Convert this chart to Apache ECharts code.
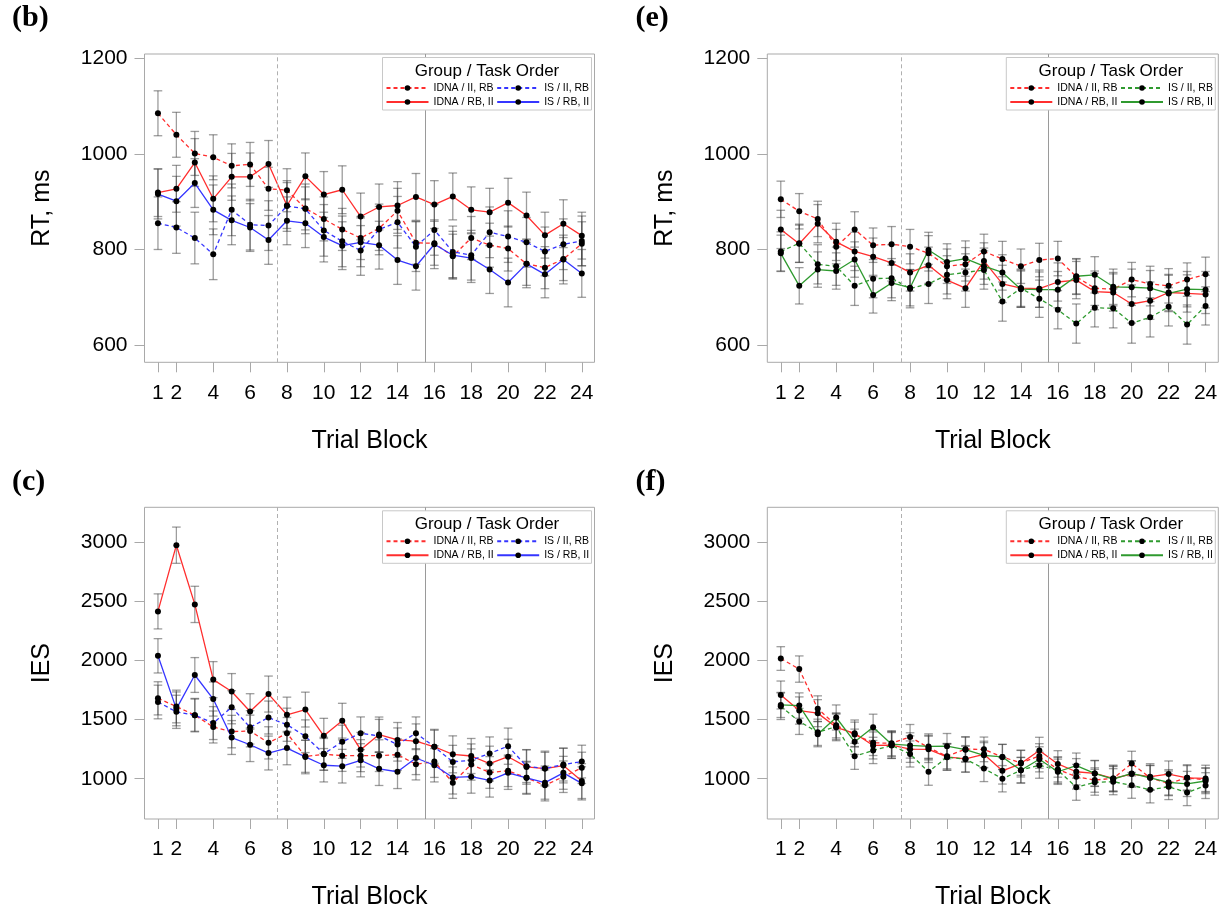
<!DOCTYPE html>
<html><head><meta charset="utf-8">
<script src="https://cdn.jsdelivr.net/npm/echarts@6/dist/echarts.min.js"></script>
<style>html,body{margin:0;padding:0;background:#fff}#c{width:1224px;height:911px}</style>
</head><body><div id="c"></div>
<script>
// ---------- data ----------
const blocks = [1,2,3,4,5,6,7,8,9,10,11,12,13,14,15,16,17,18,19,20,21,22,23,24];
const xTickValues = [1,2,4,6,8,10,12,14,16,18,20,22,24];
const rtTicks = [600,800,1000,1200];
const iesTicks = [1000,1500,2000,2500,3000];
const groupNames = ['IDNA / II, RB','IDNA / RB, II','IS / II, RB','IS / RB, II'];
const legendTitle = 'Group / Task Order';
const xTitle = 'Trial Block';
const panelLabels = ['(b)','(e)','(c)','(f)'];
const yTitles = ['RT, ms','RT, ms','IES','IES'];

// (b) RT, IDNA vs IS
const bIdnaIIRB = [1085,1040,1001,993,975,978,927,924,886,864,842,824,844,881,814,813,786,824,809,802,770,762,780,812];
const bIdnaRBII = [919,927,982,906,952,952,979,892,953,915,925,869,889,892,910,894,911,883,878,898,871,830,854,829];
const bIsIIRB   = [855,846,824,790,883,852,850,891,885,840,817,798,842,857,806,841,795,788,836,827,815,796,811,818];
const bIsRBII   = [916,901,939,883,861,846,820,860,855,826,808,815,809,778,765,811,788,782,758,731,770,748,779,750];
const bErrIdnaIIRB = [47,47,46,47,46,46,45,45,45,46,44,45,46,47,45,46,46,45,46,47,45,44,45,46];
const bErrIdnaRBII = [50,49,50,48,49,50,49,48,49,48,50,49,48,50,49,50,49,48,50,51,49,48,50,49];
const bErrIsIIRB   = [55,54,54,53,54,53,52,53,52,54,53,52,53,54,52,53,54,52,53,54,52,51,53,52];
const bErrIsRBII   = [52,52,51,52,51,50,51,50,51,52,50,51,50,51,50,51,50,51,50,51,50,49,51,50];

// (e) RT, IDNA vs IS
const eIdnaIIRB = [905,880,864,806,842,809,811,806,792,765,769,796,780,765,778,781,743,719,717,737,728,724,737,748];
const eIdnaRBII = [842,812,854,816,796,785,772,752,767,736,719,776,728,719,718,732,736,712,710,686,693,710,708,706];
const eIsIIRB   = [796,813,769,765,724,739,740,718,728,747,752,757,691,719,697,674,645,678,677,646,658,680,643,682];
const eIsRBII   = [792,724,758,755,779,705,730,720,799,774,781,765,752,717,716,716,744,747,722,721,719,708,717,716];
const eErrIdnaIIRB = [38,37,37,36,37,36,37,36,37,36,35,36,37,36,35,36,37,36,35,36,37,36,35,36];
const eErrIdnaRBII = [40,39,40,39,40,39,38,39,38,39,40,38,39,38,39,40,39,38,39,40,39,38,39,40];
const eErrIsIIRB   = [41,40,41,40,41,40,41,40,41,40,39,40,41,40,39,40,41,40,41,42,41,40,41,40];
const eErrIsRBII   = [38,38,37,38,37,38,37,38,37,38,37,38,37,38,37,38,37,38,37,38,37,38,37,38];

// (c) IES, IDNA vs IS
const cIdnaIIRB = [1679,1610,1537,1437,1398,1403,1303,1384,1189,1206,1195,1195,1195,1203,1122,1145,967,1120,1053,1067,1008,944,1017,1092];
const cIdnaRBII = [2413,2972,2472,1837,1737,1568,1715,1540,1584,1362,1490,1245,1373,1328,1317,1270,1206,1192,1128,1186,1100,1086,1111,980];
const cIsIIRB   = [1648,1565,1537,1470,1604,1434,1517,1456,1359,1211,1312,1384,1362,1289,1384,1270,1142,1156,1214,1275,1106,1086,1120,1145];
const cIsRBII   = [2038,1590,1876,1673,1348,1287,1217,1259,1184,1114,1106,1156,1084,1059,1175,1114,1011,1017,986,1050,1008,967,1050,961];
const cErrIdnaIIRB = [140,138,136,135,137,134,136,133,135,134,133,135,134,133,132,134,133,132,134,133,132,131,133,132];
const cErrIdnaRBII = [148,153,153,152,151,150,152,149,147,148,147,146,148,147,146,147,156,148,147,148,146,147,146,147];
const cErrIsIIRB   = [142,140,141,139,140,141,139,140,138,139,140,138,139,140,138,139,140,138,139,153,138,137,139,138];
const cErrIsRBII   = [145,143,147,144,143,142,143,141,142,141,142,140,141,142,140,141,140,139,141,140,139,140,139,140];

// (f) IES, IDNA vs IS
const fIdnaIIRB = [2015,1926,1592,1451,1373,1303,1300,1353,1262,1190,1250,1248,1184,1134,1192,1078,1017,989,1003,1128,1008,961,1008,989];
const fIdnaRBII = [1707,1576,1554,1434,1384,1281,1284,1250,1248,1185,1168,1206,1067,1128,1239,1125,1059,1045,1003,1039,1017,1039,1008,1003];
const fIsIIRB   = [1612,1484,1392,1440,1189,1239,1281,1209,1059,1182,1165,1086,1000,1072,1114,1072,928,970,975,944,906,933,883,942];
const fIsRBII   = [1623,1618,1376,1517,1312,1434,1292,1281,1273,1275,1245,1198,1184,1072,1164,1059,1111,1045,997,1045,1008,970,956,981];
const fErrIdnaIIRB = [100,111,108,106,105,107,106,105,104,106,105,104,106,105,104,105,104,103,105,104,103,104,103,104];
const fErrIdnaRBII = [118,115,114,113,112,114,113,112,111,113,112,111,112,113,111,112,111,110,112,111,110,111,110,111];
const fErrIsIIRB   = [112,110,111,109,110,111,109,110,114,110,109,110,111,109,110,111,110,109,110,109,110,109,110,109];
const fErrIsRBII   = [106,107,106,106,107,111,106,107,106,107,106,107,106,107,106,107,106,107,106,107,106,107,106,107];

// ---------- layout / style ----------
const FONT = 'Liberation Sans, Arial, sans-serif';
const RED = '#ff2e2e', BLUE = '#3535ff', GREEN = '#2f9a2f';
const FRAME = '#a9a9a9';
const grids = [
  {left:144.5, top:54,    width:450, height:308.3},
  {left:767.3, top:54,    width:451, height:308.3},
  {left:144.5, top:507.3, width:450, height:315.4},
  {left:767.3, top:507.3, width:451, height:315.4}
];
const panels = [
  {key:'b', yMin:564, yMax:1209, ticks:rtTicks,  isColor:BLUE,  vals:[bIdnaIIRB,bIdnaRBII,bIsIIRB,bIsRBII], errs:[bErrIdnaIIRB,bErrIdnaRBII,bErrIsIIRB,bErrIsRBII]},
  {key:'e', yMin:564, yMax:1209, ticks:rtTicks,  isColor:GREEN, vals:[eIdnaIIRB,eIdnaRBII,eIsIIRB,eIsRBII], errs:[eErrIdnaIIRB,eErrIdnaRBII,eErrIsIIRB,eErrIsRBII]},
  {key:'c', yMin:660, yMax:3292, ticks:iesTicks, isColor:BLUE,  vals:[cIdnaIIRB,cIdnaRBII,cIsIIRB,cIsRBII], errs:[cErrIdnaIIRB,cErrIdnaRBII,cErrIsIIRB,cErrIsRBII]},
  {key:'f', yMin:660, yMax:3292, ticks:iesTicks, isColor:GREEN, vals:[fIdnaIIRB,fIdnaRBII,fIsIIRB,fIsRBII], errs:[fErrIdnaIIRB,fErrIdnaRBII,fErrIsIIRB,fErrIsRBII]}
];

const gridOpt = [], xAxes = [], yAxes = [], series = [], legends = [], graphics = [];
const plain = v => String(v);

panels.forEach((p, i) => {
  const g = grids[i];
  gridOpt.push({left:g.left, top:g.top, width:g.width, height:g.height, show:true, borderColor:FRAME, borderWidth:1, backgroundColor:'transparent'});
  xAxes.push({
    type:'value', gridIndex:i, min:0.27, max:24.69,
    axisLine:{show:false, onZero:false},
    axisTick:{show:true, customValues:xTickValues, length:10, lineStyle:{color:FRAME}},
    axisLabel:{customValues:xTickValues, formatter:plain, fontSize:21, color:'#000', margin:20, fontFamily:FONT},
    splitLine:{show:false},
    name:xTitle, nameLocation:'middle', nameGap:66,
    nameTextStyle:{fontSize:25, color:'#000', fontFamily:FONT}
  });
  yAxes.push({
    type:'value', gridIndex:i, min:p.yMin, max:p.yMax,
    axisLine:{show:false, onZero:false},
    axisTick:{show:true, customValues:p.ticks, length:10, lineStyle:{color:FRAME}},
    axisLabel:{customValues:p.ticks, formatter:plain, fontSize:21, color:'#000', margin:17, fontFamily:FONT},
    splitLine:{show:false},
    name:yTitles[i], nameLocation:'middle', nameGap:90,
    nameTextStyle:{fontSize:25, color:'#000', fontFamily:FONT}
  });
  const colors = [RED, RED, p.isColor, p.isColor];
  const types = [[4,3], 'solid', [4,3], 'solid'];
  p.vals.forEach((vals, s) => {
    const name = p.key + '|' + groupNames[s];
    const err = p.errs[s];
    // error bars
    series.push({
      type:'custom', xAxisIndex:i, yAxisIndex:i, z:1, silent:true,
      encode:{x:0, y:1},
      data: blocks.map((b, k) => [b, vals[k], err[k]]),
      renderItem: function (params, api) {
        const x = api.value(0), y = api.value(1), e = api.value(2);
        const t = api.coord([x, y + e]), bt = api.coord([x, y - e]);
        const st = {stroke:'rgba(60,60,60,0.5)', lineWidth:1.3};
        const hw = 4.3;
        return {type:'group', children:[
          {type:'line', shape:{x1:t[0], y1:t[1], x2:bt[0], y2:bt[1]}, style:st},
          {type:'line', shape:{x1:t[0]-hw, y1:t[1], x2:t[0]+hw, y2:t[1]}, style:st},
          {type:'line', shape:{x1:bt[0]-hw, y1:bt[1], x2:bt[0]+hw, y2:bt[1]}, style:st}
        ]};
      }
    });
    const ser = {
      type:'line', name:name, xAxisIndex:i, yAxisIndex:i, z:3,
      data: blocks.map((b, k) => [b, vals[k]]),
      symbol:'circle', symbolSize:6, showSymbol:true,
      itemStyle:{color:'#000'},
      lineStyle:{color:colors[s], width:1.3, type:types[s]},
      emphasis:{disabled:true}, animation:false
    };
    if (s === 0) {
      ser.markLine = {
        silent:true, symbol:['none','none'], label:{show:false}, animation:false,
        data:[
          {xAxis:7.5, lineStyle:{color:'#b0b0b0', width:1, type:[4,3]}},
          {xAxis:15.5, lineStyle:{color:'#9a9a9a', width:1, type:'solid'}}
        ]
      };
    }
    series.push(ser);
  });
  // legend box and title
  const bx = g.left + g.width - 212, by = g.top + 3.5;
  graphics.push({type:'rect', z:10, shape:{x:bx, y:by, width:209, height:52.5}, style:{fill:'#fff', stroke:'#c8c8c8', lineWidth:1}});
  graphics.push({type:'text', z:11, x:bx + 104.5, y:g.top + 17.5, style:{text:legendTitle, font:'17px ' + FONT, fill:'#000', textAlign:'center', textVerticalAlign:'middle'}});
  const fmt = n => n.split('|')[1];
  legends.push({
    orient:'vertical', left:bx + 3, top:g.top + 28.5, padding:0, itemGap:3,
    itemWidth:42, itemHeight:7, selectedMode:false, z:12,
    data:[p.key + '|' + groupNames[0], p.key + '|' + groupNames[1]],
    formatter:fmt, textStyle:{fontSize:10.5, color:'#000', fontFamily:FONT}
  });
  legends.push({
    orient:'vertical', left:bx + 113.7, top:g.top + 28.5, padding:0, itemGap:3,
    itemWidth:42, itemHeight:7, selectedMode:false, z:12,
    data:[p.key + '|' + groupNames[2], p.key + '|' + groupNames[3]],
    formatter:fmt, textStyle:{fontSize:10.5, color:'#000', fontFamily:FONT}
  });
  // panel label
  const lx = (i % 2 === 0) ? 12 : 635.5;
  const ly = (i < 2) ? 18 : 482;
  graphics.push({type:'text', x:lx, y:ly, style:{text:panelLabels[i], font:'bold 30px Liberation Serif, Times New Roman, serif', fill:'#000', textAlign:'left', textVerticalAlign:'middle'}});
});

const chart = echarts.init(document.getElementById('c'), null, {renderer:'canvas'});
chart.setOption({
  animation:false,
  backgroundColor:'#fff',
  grid:gridOpt, xAxis:xAxes, yAxis:yAxes,
  legend:legends, series:series, graphic:graphics
});
</script></body></html>
